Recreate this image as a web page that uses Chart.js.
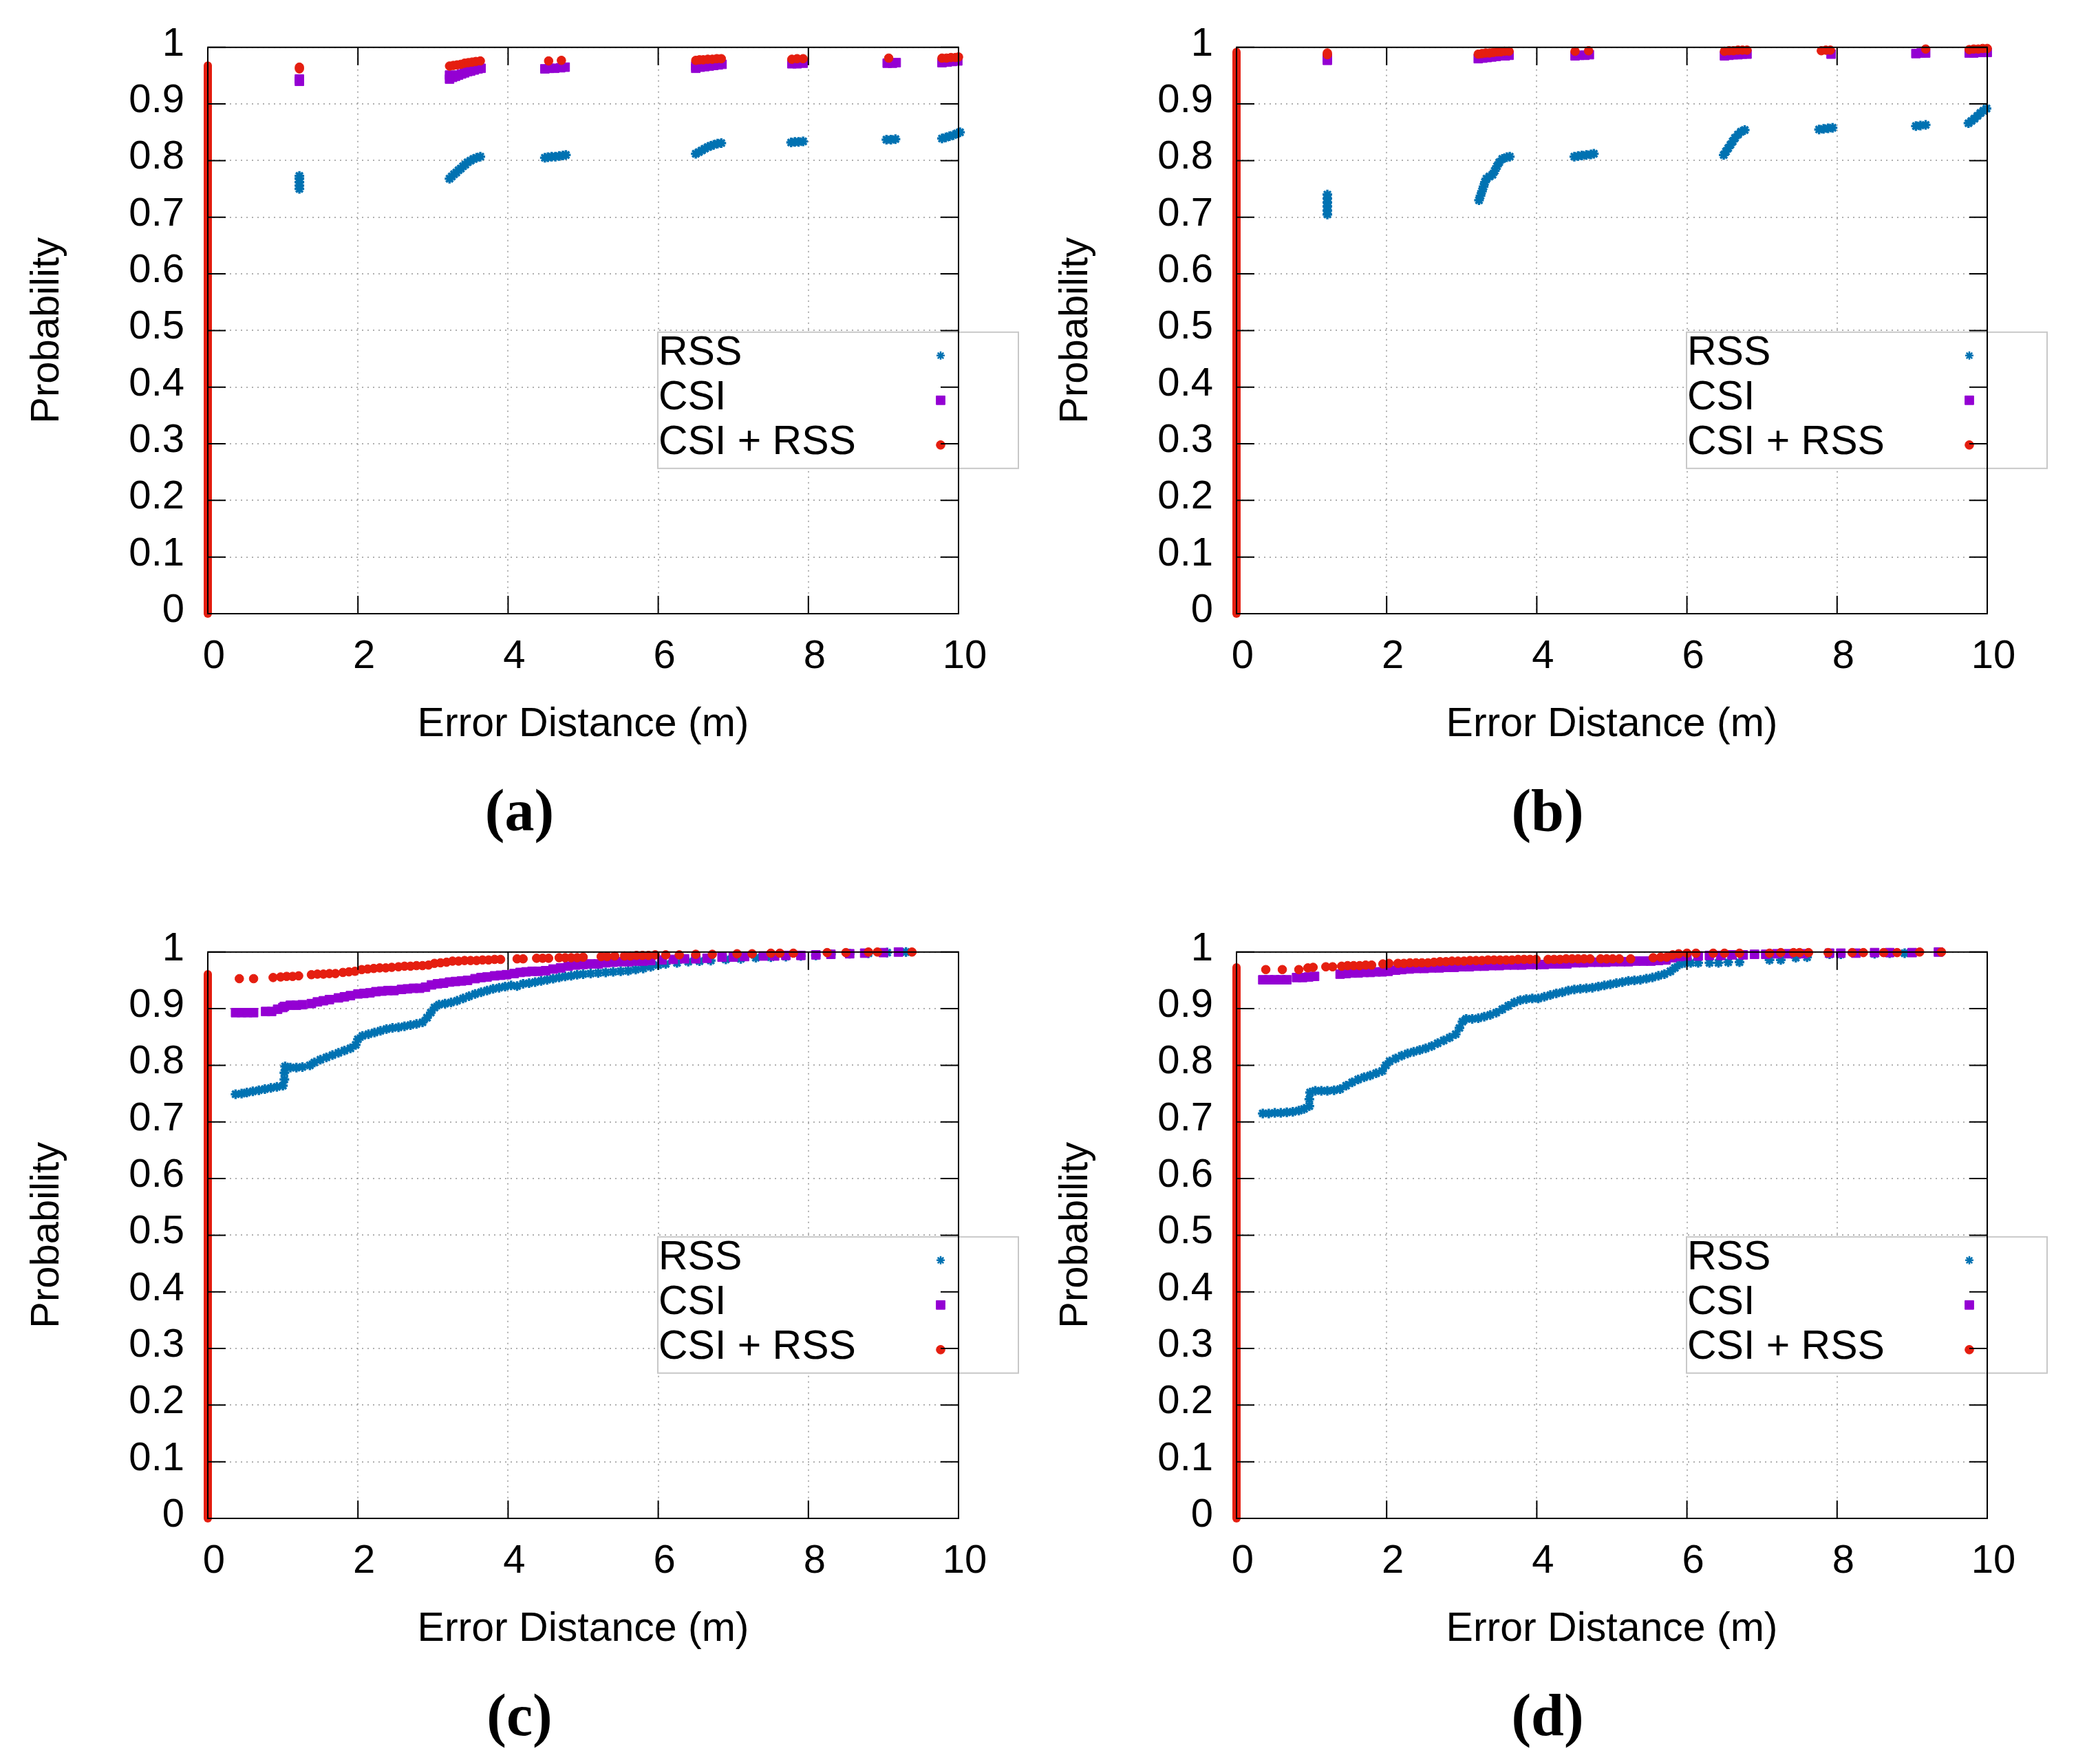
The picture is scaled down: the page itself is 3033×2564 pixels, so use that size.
<!DOCTYPE html>
<html>
<head>
<meta charset="utf-8">
<script src="https://cdn.jsdelivr.net/npm/chart.js@4.4.1/dist/chart.umd.min.js"></script>
<style>
html,body{margin:0;padding:0;background:#fff;width:3033px;height:2564px;overflow:hidden;}
canvas{position:absolute;}
</style>
</head>
<body>
<canvas id="ca" width="1516" height="1249" style="left:0px;top:0px;width:1516px;height:1249px"></canvas>
<canvas id="cb" width="1516" height="1249" style="left:1495px;top:0px;width:1516px;height:1249px"></canvas>
<canvas id="cc" width="1516" height="1249" style="left:0px;top:1315px;width:1516px;height:1249px"></canvas>
<canvas id="cd" width="1516" height="1249" style="left:1495px;top:1315px;width:1516px;height:1249px"></canvas>
<script>
// ---------- labels / ticks ----------
const seriesNames = ['RSS', 'CSI', 'CSI + RSS'];
const xTickValues = [0, 2, 4, 6, 8, 10];
const yTickValues = [0, 0.1, 0.2, 0.3, 0.4, 0.5, 0.6, 0.7, 0.8, 0.9, 1];
const panelLabels = ['(a)', '(b)', '(c)', '(d)'];
const xTitle = 'Error Distance (m)';
const yTitle = 'Probability';
// height reached by the stack of samples at error 0
const zeroTop = [0.968, 0.992, 0.961, 0.973];

// ---------- panel (a) ----------
const rssA = [
[1.22,0.750],[1.22,0.756],[1.22,0.762],[1.22,0.768],[1.22,0.773],
[3.22,0.768],[3.25,0.772],[3.28,0.776],[3.31,0.779],[3.34,0.783],[3.37,0.786],[3.40,0.790],[3.43,0.793],[3.46,0.797],[3.50,0.800],[3.54,0.803],[3.58,0.805],[3.63,0.807],
[4.49,0.805],[4.53,0.806],[4.58,0.807],[4.63,0.807],[4.68,0.808],[4.73,0.809],[4.77,0.810],
[6.50,0.812],[6.54,0.815],[6.58,0.818],[6.62,0.821],[6.66,0.824],[6.70,0.826],[6.74,0.828],[6.79,0.830],[6.84,0.831],
[7.77,0.832],[7.82,0.833],[7.87,0.833],[7.93,0.834],
[9.04,0.837],[9.10,0.837],[9.16,0.838],
[9.78,0.839],[9.83,0.841],[9.88,0.843],[9.93,0.845],[9.98,0.848],[10.02,0.850]
];
const csiA = [
[1.22,0.940],[1.22,0.944],
[3.22,0.944],[3.22,0.951],[3.26,0.947],[3.30,0.949],[3.34,0.951],[3.38,0.953],[3.42,0.955],[3.46,0.957],[3.50,0.958],[3.55,0.960],[3.60,0.962],[3.64,0.963],
[4.49,0.962],[4.55,0.963],[4.62,0.963],[4.70,0.964],[4.76,0.965],
[6.50,0.963],[6.50,0.967],[6.56,0.965],[6.62,0.966],[6.68,0.967],[6.74,0.968],[6.80,0.969],[6.85,0.970],
[7.78,0.971],[7.85,0.971],[7.93,0.972],
[9.05,0.972],[9.12,0.972],[9.17,0.973],
[9.78,0.973],[9.85,0.974],[9.92,0.975],[9.99,0.976]
];
const bothA = [
[1.22,0.962],[1.22,0.965],
[3.22,0.967],[3.27,0.968],[3.32,0.969],[3.37,0.970],[3.42,0.972],[3.47,0.973],[3.52,0.974],[3.57,0.975],[3.63,0.976],
[4.54,0.976],[4.71,0.977],
[6.50,0.977],[6.55,0.978],[6.60,0.978],[6.66,0.979],[6.72,0.979],[6.78,0.980],[6.84,0.980],
[7.78,0.979],[7.85,0.980],[7.93,0.980],
[9.07,0.981],
[9.78,0.981],[9.84,0.981],[9.90,0.982],[9.96,0.982],[10.0,0.983]
];

// ---------- panel (b) ----------
const rssB = [
[1.21,0.705],[1.21,0.712],[1.21,0.719],[1.21,0.726],[1.21,0.733],[1.21,0.740],
[3.23,0.730],[3.25,0.738],[3.27,0.746],[3.29,0.754],[3.31,0.762],[3.33,0.768],[3.37,0.772],[3.41,0.775],[3.44,0.782],[3.47,0.790],[3.50,0.797],[3.54,0.803],[3.60,0.806],[3.64,0.807],
[4.50,0.807],[4.55,0.808],[4.60,0.809],[4.66,0.810],[4.72,0.811],[4.76,0.812],
[6.49,0.810],[6.52,0.816],[6.55,0.822],[6.58,0.828],[6.61,0.834],[6.64,0.840],[6.68,0.846],[6.72,0.851],[6.77,0.854],
[7.76,0.855],[7.82,0.856],[7.88,0.857],[7.94,0.858],
[9.05,0.861],[9.11,0.862],[9.18,0.863],
[9.75,0.866],[9.79,0.870],[9.83,0.874],[9.87,0.879],[9.91,0.884],[9.95,0.888],[9.99,0.892]
];
const csiB = [
[1.21,0.977],[1.21,0.981],
[3.22,0.980],[3.28,0.981],[3.34,0.982],[3.40,0.983],[3.46,0.984],[3.52,0.985],[3.58,0.985],[3.63,0.986],
[4.51,0.985],[4.57,0.986],[4.64,0.986],[4.70,0.987],
[6.50,0.985],[6.56,0.986],[6.62,0.987],[6.68,0.987],[6.74,0.988],[6.80,0.988],
[7.92,0.988],
[9.05,0.989],[9.12,0.990],[9.18,0.990],
[9.76,0.990],[9.82,0.990],[9.88,0.991],[9.94,0.991],[10.0,0.991]
];
const bothB = [
[1.21,0.987],[1.21,0.990],
[3.22,0.988],[3.27,0.989],[3.32,0.990],[3.37,0.990],[3.42,0.991],[3.47,0.992],[3.52,0.992],[3.57,0.993],[3.63,0.993],
[4.51,0.993],[4.69,0.994],
[6.50,0.993],[6.56,0.994],[6.62,0.994],[6.68,0.995],[6.74,0.995],[6.80,0.995],
[7.79,0.994],[7.85,0.995],[7.91,0.995],
[9.18,0.997],
[9.76,0.996],[9.82,0.997],[9.88,0.997],[9.94,0.998],[10.0,0.998]
];

// ---------- panel (c) ----------
const rssC = [
[0.37,0.749],[0.45,0.750],[0.52,0.752],[0.60,0.754],[0.68,0.756],[0.76,0.758],[0.84,0.760],[0.92,0.762],[1.00,0.764],[1.02,0.775],[1.02,0.787],[1.03,0.798],
[1.10,0.796],[1.18,0.796],[1.26,0.797],[1.36,0.800],[1.42,0.805],[1.50,0.810],[1.58,0.814],[1.66,0.818],[1.74,0.822],[1.82,0.826],[1.90,0.830],[1.97,0.836],
[2.00,0.846],[2.06,0.852],[2.14,0.855],[2.22,0.858],[2.30,0.861],[2.38,0.864],[2.46,0.866],[2.54,0.867],[2.62,0.869],[2.70,0.871],[2.78,0.873],[2.86,0.876],
[2.92,0.884],[2.97,0.893],[3.02,0.902],[3.08,0.907],[3.16,0.909],[3.24,0.911],[3.32,0.914],[3.40,0.918],[3.48,0.922],[3.56,0.926],[3.64,0.929],[3.72,0.932],
[3.80,0.935],[3.88,0.937],[3.96,0.939],[4.04,0.941],[4.12,0.940],[4.20,0.944],[4.28,0.945],[4.36,0.947],[4.44,0.949],[4.52,0.951],[4.60,0.953],[4.68,0.955],
[4.76,0.957],[4.84,0.958],[4.92,0.960],[5.00,0.961],[5.10,0.962],[5.20,0.963],[5.30,0.964],[5.40,0.965],[5.50,0.966],[5.60,0.967],[5.70,0.969],[5.80,0.971],
[5.90,0.974],[6.00,0.977],[6.10,0.979],[6.25,0.981],[6.40,0.983],[6.55,0.984],[6.70,0.985],[6.90,0.987],[7.10,0.988],[7.30,0.990],[7.50,0.991],[7.70,0.992],
[7.90,0.993],[8.10,0.994],[8.30,0.996],[8.55,0.997],[8.80,0.998],[9.05,0.999],[9.30,1.000]
];
const csiC = [
[0.37,0.893],[0.45,0.893],[0.53,0.893],[0.61,0.893],[0.77,0.895],[0.85,0.895],[0.93,0.899],[1.00,0.902],[1.02,0.904],[1.10,0.906],[1.18,0.906],[1.26,0.907],
[1.38,0.909],[1.46,0.912],[1.54,0.914],[1.62,0.916],[1.74,0.919],[1.82,0.921],[1.90,0.923],[2.00,0.926],[2.08,0.927],[2.16,0.928],[2.24,0.930],[2.32,0.931],
[2.40,0.932],[2.48,0.932],[2.58,0.934],[2.66,0.935],[2.74,0.936],[2.82,0.936],[2.90,0.938],[2.98,0.942],[3.06,0.944],[3.14,0.945],[3.22,0.947],[3.30,0.948],
[3.38,0.949],[3.46,0.950],[3.56,0.953],[3.64,0.955],[3.72,0.956],[3.82,0.958],[3.90,0.959],[3.98,0.960],[4.08,0.962],[4.16,0.964],[4.24,0.965],[4.32,0.966],
[4.40,0.966],[4.50,0.967],[4.60,0.970],[4.70,0.972],[4.80,0.975],[4.90,0.977],[5.00,0.978],[5.10,0.979],[5.20,0.979],[5.30,0.981],[5.40,0.982],[5.50,0.983],
[5.60,0.983],[5.70,0.984],[5.80,0.984],[5.90,0.985],[6.05,0.986],[6.20,0.987],[6.35,0.988],[6.50,0.988],[6.65,0.989],[6.85,0.991],[7.00,0.991],[7.15,0.992],
[7.40,0.993],[7.55,0.993],[7.70,0.994],[7.90,0.994],[8.10,0.995],[8.30,0.996],[8.55,0.997],[8.75,0.998],[9.00,0.999],[9.20,1.000]
];
const bothC = [
[0.42,0.953],[0.61,0.953],[0.87,0.955],[0.97,0.956],[1.05,0.957],[1.13,0.957],[1.21,0.958],[1.38,0.960],[1.46,0.961],[1.54,0.961],[1.62,0.962],[1.70,0.962],
[1.80,0.964],[1.88,0.965],[1.96,0.966],[2.05,0.969],[2.13,0.970],[2.21,0.971],[2.29,0.972],[2.37,0.972],[2.45,0.973],[2.54,0.974],[2.62,0.975],[2.70,0.975],
[2.78,0.976],[2.86,0.976],[2.94,0.977],[3.02,0.980],[3.10,0.981],[3.18,0.982],[3.26,0.984],[3.34,0.984],[3.42,0.985],[3.50,0.985],[3.58,0.985],[3.66,0.986],
[3.74,0.986],[3.82,0.987],[3.90,0.987],[4.12,0.988],[4.20,0.988],[4.38,0.989],[4.46,0.989],[4.54,0.989],[4.68,0.990],[4.76,0.990],[4.84,0.990],[4.92,0.990],
[5.00,0.991],[5.24,0.992],[5.32,0.992],[5.42,0.993],[5.55,0.993],[5.63,0.993],[5.71,0.994],[5.79,0.994],[5.87,0.994],[5.96,0.995],[6.10,0.995],[6.28,0.995],
[6.50,0.996],[6.72,0.996],[7.05,0.997],[7.25,0.997],[7.50,0.998],[7.62,0.998],[7.80,0.998],[8.25,0.999],[8.50,0.999],[8.80,1.000],[8.92,1.000],[9.38,1.000]
];

// ---------- panel (d) ----------
const rssD = [
[0.35,0.715],[0.43,0.715],[0.51,0.716],[0.59,0.716],[0.67,0.717],[0.75,0.718],[0.83,0.720],[0.90,0.723],[0.97,0.728],[0.97,0.740],[0.98,0.752],[1.05,0.755],
[1.13,0.755],[1.21,0.755],[1.30,0.756],[1.38,0.758],[1.46,0.764],[1.54,0.770],[1.62,0.775],[1.70,0.779],[1.78,0.782],[1.86,0.786],[1.94,0.790],[1.99,0.800],
[2.04,0.807],[2.12,0.812],[2.20,0.817],[2.28,0.821],[2.36,0.824],[2.44,0.827],[2.52,0.830],[2.60,0.834],[2.68,0.839],[2.76,0.844],[2.84,0.849],[2.92,0.855],
[2.97,0.866],[3.01,0.877],[3.06,0.882],[3.14,0.882],[3.22,0.883],[3.30,0.886],[3.38,0.889],[3.46,0.893],[3.54,0.899],[3.62,0.905],[3.70,0.911],[3.78,0.915],
[3.86,0.917],[3.94,0.918],[4.02,0.918],[4.10,0.921],[4.18,0.924],[4.26,0.927],[4.34,0.929],[4.42,0.932],[4.50,0.934],[4.58,0.935],[4.66,0.936],[4.74,0.937],
[4.82,0.939],[4.90,0.941],[4.98,0.943],[5.06,0.945],[5.14,0.947],[5.22,0.949],[5.30,0.950],[5.38,0.951],[5.46,0.953],[5.54,0.955],[5.62,0.958],[5.70,0.961],
[5.78,0.966],[5.84,0.972],[5.90,0.978],[5.97,0.981],[6.05,0.981],[6.15,0.981],[6.30,0.981],[6.42,0.981],[6.55,0.982],[6.70,0.982],[7.10,0.986],[7.25,0.986],
[7.45,0.990],[7.60,0.991],[7.90,0.996],[8.05,0.996],[8.50,0.997],[8.70,0.998],[8.90,0.998]
];
const csiD = [
[0.35,0.951],[0.43,0.951],[0.51,0.951],[0.59,0.951],[0.67,0.951],[0.80,0.955],[0.88,0.955],[0.96,0.956],[1.04,0.957],[1.38,0.961],[1.46,0.962],[1.54,0.963],
[1.62,0.963],[1.70,0.964],[1.78,0.964],[1.86,0.965],[1.94,0.965],[2.02,0.966],[2.12,0.968],[2.20,0.969],[2.30,0.970],[2.40,0.971],[2.50,0.971],[2.60,0.972],
[2.70,0.972],[2.80,0.973],[2.90,0.973],[3.00,0.974],[3.10,0.974],[3.20,0.975],[3.30,0.975],[3.40,0.976],[3.50,0.976],[3.60,0.977],[3.70,0.977],[3.80,0.977],
[3.90,0.978],[4.00,0.978],[4.10,0.978],[4.20,0.979],[4.30,0.979],[4.40,0.979],[4.52,0.981],[4.62,0.981],[4.72,0.982],[4.82,0.982],[4.92,0.982],[5.02,0.983],
[5.12,0.983],[5.22,0.983],[5.32,0.984],[5.42,0.984],[5.52,0.984],[5.62,0.985],[5.72,0.986],[5.80,0.990],[5.90,0.992],[6.00,0.993],[6.15,0.993],[6.30,0.994],
[6.45,0.994],[6.60,0.995],[6.75,0.995],[6.90,0.996],[7.05,0.996],[7.20,0.997],[7.35,0.997],[7.55,0.997],[7.90,0.998],[8.05,0.998],[8.25,0.998],[8.50,0.999],
[8.70,0.999],[9.00,0.999],[9.35,1.000]
];
const bothD = [
[0.39,0.969],[0.61,0.969],[0.83,0.969],[0.95,0.972],[1.02,0.973],[1.19,0.974],[1.28,0.974],[1.40,0.975],[1.48,0.976],[1.56,0.976],[1.64,0.976],[1.72,0.977],
[1.80,0.977],[1.95,0.979],[2.03,0.980],[2.15,0.980],[2.23,0.980],[2.31,0.981],[2.39,0.981],[2.47,0.981],[2.55,0.981],[2.63,0.982],[2.71,0.983],[2.79,0.983],
[2.87,0.984],[2.95,0.984],[3.03,0.984],[3.11,0.985],[3.19,0.985],[3.27,0.985],[3.35,0.986],[3.43,0.986],[3.51,0.986],[3.59,0.986],[3.67,0.986],[3.75,0.987],
[3.83,0.987],[3.91,0.987],[3.99,0.987],[4.15,0.987],[4.23,0.987],[4.31,0.987],[4.39,0.988],[4.47,0.988],[4.55,0.988],[4.63,0.988],[4.71,0.988],[4.85,0.988],
[4.93,0.988],[5.01,0.988],[5.10,0.988],[5.25,0.988],[5.55,0.990],[5.65,0.991],[5.73,0.991],[5.81,0.995],[5.89,0.997],[6.00,0.998],[6.12,0.998],[6.35,0.998],
[6.50,0.998],[6.70,0.998],[7.10,0.998],[7.25,0.999],[7.42,0.999],[7.50,0.999],[7.62,0.999],[7.88,0.999],[8.20,0.999],[8.35,0.999],[8.62,0.999],[8.80,0.999],
[9.10,1.000],[9.39,1.000]
];

// ---------- styling ----------
const BLUE = '#0072B2', PURPLE = '#9400D3', RED = '#E51E10';
const SANS = "'Liberation Sans', Arial, sans-serif";
Chart.defaults.font.family = SANS;
Chart.defaults.color = '#000';

function drawMarker(ctx, style, r, bw, x, y, color) {
  ctx.save();
  ctx.fillStyle = color; ctx.strokeStyle = color; ctx.lineWidth = bw;
  if (Chart.helpers && Chart.helpers.drawPoint) {
    Chart.helpers.drawPoint(ctx, {pointStyle: style, radius: r, borderWidth: bw, rotation: 0}, x, y);
  } else {
    ctx.beginPath();
    if (style === 'circle') { ctx.arc(x, y, r, 0, Math.PI * 2); ctx.fill(); ctx.stroke(); }
    else if (style === 'rect') { const s = r * Math.SQRT1_2; ctx.rect(x - s, y - s, 2 * s, 2 * s); ctx.fill(); ctx.stroke(); }
    else {
      const d = r * Math.SQRT1_2;
      ctx.moveTo(x - r, y); ctx.lineTo(x + r, y); ctx.moveTo(x, y - r); ctx.lineTo(x, y + r);
      ctx.moveTo(x - d, y - d); ctx.lineTo(x + d, y + d); ctx.moveTo(x - d, y + d); ctx.lineTo(x + d, y - d);
      ctx.stroke();
    }
  }
  ctx.restore();
}

const MARK = [
  {style: 'star', r: 7, bw: 3.5, color: BLUE},
  {style: 'rect', r: 9, bw: 1, color: PURPLE},
  {style: 'circle', r: 6.3, bw: 1, color: RED}
];

const gnuplotLook = {
  id: 'gp',
  afterDatasetsDraw(chart, args, opts) {
    const {ctx, chartArea: a} = chart;
    const xs = chart.scales.x, ys = chart.scales.y;
    ctx.save();
    // key box
    const bl = a.left + 654, bt = a.top + 414, bw = 524, bh = 198;
    ctx.fillStyle = '#fff';
    ctx.fillRect(bl, bt, bw, bh);
    ctx.strokeStyle = '#c8c8c8'; ctx.lineWidth = 2;
    ctx.strokeRect(bl, bt, bw, bh);
    ctx.font = '59px ' + SANS;
    ctx.textAlign = 'left'; ctx.textBaseline = 'alphabetic';
    const baselines = [47, 112, 177];
    for (let i = 0; i < 3; i++) {
      ctx.fillStyle = '#000';
      ctx.fillText(seriesNames[i], bl + 1, bt + baselines[i]);
      const m = MARK[i];
      drawMarker(ctx, m.style, i === 0 ? 6 : m.r, i === 0 ? 2.5 : m.bw, a.right - 26, bt + baselines[i] - 13, m.color);
    }
    // border
    ctx.strokeStyle = '#000'; ctx.lineWidth = 2;
    ctx.strokeRect(a.left, a.top, a.right - a.left, a.bottom - a.top);
    // inward ticks, mirrored
    ctx.beginPath();
    xTickValues.forEach(v => {
      const px = xs.getPixelForValue(v);
      ctx.moveTo(px, a.bottom); ctx.lineTo(px, a.bottom - 26);
      ctx.moveTo(px, a.top); ctx.lineTo(px, a.top + 26);
    });
    yTickValues.forEach(v => {
      const py = ys.getPixelForValue(v);
      ctx.moveTo(a.left, py); ctx.lineTo(a.left + 26, py);
      ctx.moveTo(a.right, py); ctx.lineTo(a.right - 26, py);
    });
    ctx.stroke();
    // sub-figure label
    ctx.fillStyle = '#000';
    ctx.font = 'bold 86px "Liberation Serif", "Times New Roman", serif';
    ctx.textAlign = 'center'; ctx.textBaseline = 'alphabetic';
    ctx.fillText(opts.label, opts.labelX, 1207);
    ctx.restore();
  }
};

function pts(arr) { return arr.map(p => ({x: p[0], y: p[1]})); }

function makePanel(id, rss, csi, both, top0, label, labelX) {
  const datasets = [
    {label: 'zero', data: [{x: 0, y: 0}, {x: 0, y: top0}], showLine: true, borderColor: RED, borderWidth: 12,
     borderCapStyle: 'round', pointRadius: 0, order: -1, clip: 10},
    {label: seriesNames[2], data: pts(both), pointStyle: 'circle', pointRadius: MARK[2].r, pointBorderWidth: MARK[2].bw,
     pointBackgroundColor: RED, pointBorderColor: RED, borderColor: RED, backgroundColor: RED, showLine: false, order: 0, clip: 10},
    {label: seriesNames[1], data: pts(csi), pointStyle: 'rect', pointRadius: MARK[1].r, pointBorderWidth: MARK[1].bw,
     pointBackgroundColor: PURPLE, pointBorderColor: PURPLE, borderColor: PURPLE, backgroundColor: PURPLE, showLine: false, order: 1, clip: 10},
    {label: seriesNames[0], data: pts(rss), pointStyle: 'star', pointRadius: MARK[0].r, pointBorderWidth: MARK[0].bw,
     pointBackgroundColor: BLUE, pointBorderColor: BLUE, borderColor: BLUE, backgroundColor: BLUE, showLine: false, order: 2, clip: 10}
  ];
  return new Chart(document.getElementById(id), {
    type: 'scatter',
    data: {datasets},
    plugins: [gnuplotLook],
    options: {
      responsive: false,
      animation: false,
      devicePixelRatio: 1,
      events: [],
      layout: {padding: {left: 0, top: 66, right: 123, bottom: 159.4}},
      plugins: {legend: {display: false}, tooltip: {enabled: false}, gp: {label, labelX}},
      scales: {
        x: {
          type: 'linear', min: 0, max: 10,
          afterBuildTicks: s => { s.ticks = xTickValues.map(v => ({value: v})); },
          afterFit: s => { s.height = 197.6; },
          ticks: {font: {size: 58}, padding: 28, labelOffset: 9, maxRotation: 0, autoSkip: false,
                  callback: v => String(v)},
          grid: {color: 'rgba(150,150,150,0.75)', lineWidth: 2, drawTicks: false},
          border: {display: false, dash: [2, 6]},
          title: {display: true, text: xTitle, font: {size: 59}, padding: {top: 0, bottom: 0}}
        },
        y: {
          type: 'linear', min: 0, max: 1,
          afterBuildTicks: s => { s.ticks = yTickValues.map(v => ({value: v})); },
          afterFit: s => { s.width = 302; },
          ticks: {font: {size: 58}, padding: 34, labelOffset: -4, autoSkip: false,
                  callback: v => String(Number(v.toFixed(1)))},
          grid: {color: 'rgba(150,150,150,0.75)', lineWidth: 2, drawTicks: false},
          border: {display: false, dash: [2, 6]},
          title: {display: true, text: yTitle, font: {size: 58}, padding: {top: 34, bottom: 0}}
        }
      }
    }
  });
}

makePanel('ca', rssA, csiA, bothA, zeroTop[0], panelLabels[0], 755);
makePanel('cb', rssB, csiB, bothB, zeroTop[1], panelLabels[1], 754);
makePanel('cc', rssC, csiC, bothC, zeroTop[2], panelLabels[2], 755);
makePanel('cd', rssD, csiD, bothD, zeroTop[3], panelLabels[3], 754);
</script>
</body>
</html>
